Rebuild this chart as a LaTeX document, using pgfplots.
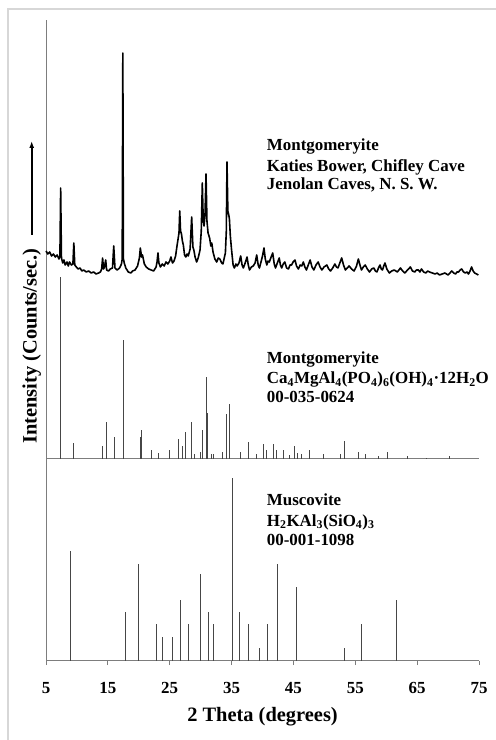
\documentclass[border=0pt]{standalone}
\usepackage{fontspec}
\setmainfont{Liberation Serif}
\usepackage{pgfplots}
\pgfplotsset{compat=1.18}
\usetikzlibrary{arrows.meta}

\definecolor{axisgray}{RGB}{125,125,125}
\definecolor{stickgray}{RGB}{70,70,70}
\definecolor{framegray}{RGB}{215,215,215}

\begin{document}
\begin{tikzpicture}[x=1bp,y=1bp]
\useasboundingbox (0,0) rectangle (496,740);
\draw[framegray, line width=2bp] (8,0) -- (8,731) -- (496,731);

\begin{axis}[
  at={(46bp,79bp)}, anchor=south west,
  scale only axis, width=433bp, height=641bp,
  xmin=5, xmax=75, ymin=0, ymax=641,
  axis x line=bottom, axis y line=left,
  axis line style={-, axisgray, line width=1bp},
  xtick={5,15,...,75}, ytick=\empty,
  tick align=outside, major tick length=4bp,
  xtick style={axisgray, line width=1bp},
  /pgf/number format/assume math mode=true,
  xticklabel style={font=\fontsize{17}{17}\selectfont\bfseries, text=black, yshift=-14bp},
  xlabel={2 Theta (degrees)},
  xlabel style={font=\fontsize{20.5}{20.5}\selectfont\bfseries, at={(rel axis cs:0.5,-0.0874)}, anchor=center},
  ylabel={Intensity (Counts/sec.)},
  ylabel style={font=\fontsize{20.5}{20.5}\selectfont\bfseries, at={(rel axis cs:-0.033,0.4914)}, anchor=center},
  clip=false,
]
% experimental pattern (Katies Bower)
\addplot[black, line width=1.6bp, line join=round] coordinates {
(5.0,410) (5.3,407) (5.6,409) (5.9,405) (6.2,407) (6.5,404) (6.8,406) (7.1,402) (7.25,405) (7.37,473)
(7.5,403) (7.7,398) (7.9,401) (8.1,396) (8.4,399) (8.6,395) (8.8,399) (9.1,396) (9.35,397) (9.5,418)
(9.65,396) (9.9,394) (10.2,392) (10.5,393) (10.8,390) (11.1,391) (11.5,389) (11.9,390) (12.3,388) (12.7,389)
(13.1,387) (13.5,388) (13.8,389) (14.0,392) (14.15,403) (14.3,392) (14.45,394) (14.65,401) (14.8,391) (15.1,390)
(15.4,392) (15.75,393) (15.95,415) (16.15,393) (16.5,391) (16.9,393) (17.2,397) (17.32,402) (17.42,608) (17.52,402)
(17.65,398) (17.9,393) (18.3,389) (18.7,388) (19.0,390) (19.4,391) (19.8,395) (20.1,403) (20.25,413) (20.45,404)
(20.6,406) (20.9,397) (21.2,394) (21.6,392) (22.0,391) (22.4,390) (22.8,394) (22.95,399) (23.1,408) (23.25,398)
(23.5,394) (23.8,397) (24.1,395) (24.4,399) (24.7,397) (25.0,400) (25.2,404) (25.45,398) (25.7,400) (25.95,405)
(26.2,416) (26.5,428) (26.62,450) (26.75,430) (26.9,427) (27.05,420) (27.2,416) (27.4,406) (27.6,404) (27.8,407)
(28.0,405) (28.3,412) (28.55,444) (28.75,414) (28.9,411) (29.1,404) (29.35,399) (29.6,403) (29.9,411) (30.1,430)
(30.27,478) (30.42,440) (30.55,435) (30.7,445) (30.87,487) (31.02,440) (31.2,428) (31.45,423) (31.65,415) (31.8,418)
(32.0,409) (32.3,402) (32.6,399) (32.85,403) (33.1,402) (33.4,398) (33.6,397) (33.85,404) (34.0,408) (34.15,430)
(34.26,499) (34.4,450) (34.55,446) (34.65,442) (34.8,425) (35.0,411) (35.25,396) (35.45,393) (35.7,397) (35.9,395)
(36.2,398) (36.47,405) (36.7,396) (36.9,393) (37.2,398) (37.5,404) (37.7,396) (37.9,391) (38.2,394) (38.5,395)
(38.8,398) (39.06,406) (39.3,396) (39.5,393) (39.8,400) (40.0,405) (40.24,413) (40.45,402) (40.7,396) (40.9,400)
(41.1,399) (41.4,404) (41.65,408) (41.9,397) (42.1,393) (42.4,398) (42.7,403) (42.9,396) (43.1,393) (43.35,397)
(43.6,399) (43.9,393) (44.2,392) (44.45,396) (44.7,396) (44.95,399) (45.25,401) (45.5,395) (45.8,392) (46.1,396)
(46.35,395) (46.6,399) (46.85,394) (47.1,391) (47.4,396) (47.7,401) (48.0,394) (48.3,391) (48.65,396) (49.0,399)
(49.3,394) (49.6,391) (49.95,394) (50.4,396) (50.7,392) (51.0,390) (51.35,393) (51.7,397) (51.95,394) (52.2,393)
(52.5,398) (52.8,403) (53.1,396) (53.4,391) (53.7,393) (54.0,395) (54.4,392) (54.8,390) (55.2,395) (55.5,402)
(55.75,396) (56.0,391) (56.3,394) (56.6,396) (56.95,392) (57.3,389) (57.65,392) (58.0,393) (58.25,390) (58.5,389)
(58.75,393) (59.0,396) (59.2,392) (59.4,391) (59.6,395) (59.8,398) (60.1,392) (60.5,388) (60.9,390) (61.3,391)
(61.8,389) (62.3,393) (62.65,390) (63.0,388) (63.45,391) (63.9,394) (64.25,390) (64.6,389) (64.9,391) (65.2,391)
(65.45,389) (65.7,392) (66.05,389) (66.4,388) (66.7,390) (67.0,389) (67.45,388) (67.9,387) (68.25,388) (68.6,386)
(69.05,387) (69.5,388) (69.75,387) (70.0,386) (70.3,388) (70.6,390) (70.9,388) (71.2,387) (71.45,389) (71.7,389)
(71.95,391) (72.2,392) (72.5,389) (72.8,388) (73.05,389) (73.3,387) (73.55,390) (73.8,394) (74.05,390) (74.3,388)
(74.6,387) (74.9,386)
};
% baseline of the reference pattern
\addplot[axisgray, line width=1bp] coordinates {(5,202) (75,202)};
% Muscovite 00-001-1098
\addplot[ycomb, stickgray, line width=1bp] coordinates {
(8.88,110) (17.8,49) (19.9,97) (22.9,37) (23.9,24) (25.5,24) (26.7,61) (28.0,37)
(29.9,87) (31.2,49) (32.0,37) (35.1,183) (36.25,49) (37.8,37) (39.5,13) (40.8,37)
(42.5,97) (45.5,74) (53.3,13) (56.0,37) (61.7,61)
};
\end{axis}

% Montgomeryite 00-035-0624
\begin{axis}[
  at={(46bp,281bp)}, anchor=south west,
  scale only axis, width=433bp, height=200bp,
  xmin=5, xmax=75, ymin=0, ymax=200,
  hide axis, clip=false,
]
\addplot[ycomb, stickgray, line width=1bp] coordinates {
(7.37,182) (9.5,16) (14.2,13) (14.7,37) (16.0,22) (17.45,119) (20.25,22) (20.5,29)
(22.1,9) (23.15,6) (24.9,9) (26.4,20) (27.0,13) (27.5,27) (28.5,37) (29.0,5)
(30.05,7) (30.3,29) (30.9,82) (31.1,46) (31.8,5) (32.1,5) (33.6,7) (34.2,45)
(34.7,55) (36.5,7) (37.8,17) (39.1,5) (40.2,15) (40.6,9) (41.7,15) (42.3,9)
(43.4,9) (44.3,4) (45.2,13) (45.7,6) (46.3,5) (47.6,9) (49.8,5) (52.6,5)
(53.2,18) (55.5,7) (56.7,5) (58.7,3) (60.2,7) (63.5,3) (66.5,1) (70.2,3)
};
\end{axis}

\draw[black, line width=1.6bp, -{Latex[length=7bp,width=5bp]}] (31.7,505) -- (31.7,599);

\begin{scope}[every node/.style={anchor=base west, inner sep=0pt, font=\fontsize{17}{17}\selectfont\bfseries}]
\node at (266.7,589.5) {Montgomeryite};
\node at (266.7,568.8) {Katies Bower, Chifley Cave};
\node at (266.7,550.2) {Jenolan Caves, N. S. W.};
\node at (266.7,376.2) {Montgomeryite};
\node at (266.7,356.2) {Ca\textsubscript{4}MgAl\textsubscript{4}(PO\textsubscript{4})\textsubscript{6}(OH)\textsubscript{4}\textperiodcentered 12H\textsubscript{2}O};
\node at (266.7,337.2) {00-035-0624};
\node at (266.7,234.5) {Muscovite};
\node at (266.7,213.8) {H\textsubscript{2}KAl\textsubscript{3}(SiO\textsubscript{4})\textsubscript{3}};
\node at (266.7,194.5) {00-001-1098};
\end{scope}
\end{tikzpicture}
\end{document}
